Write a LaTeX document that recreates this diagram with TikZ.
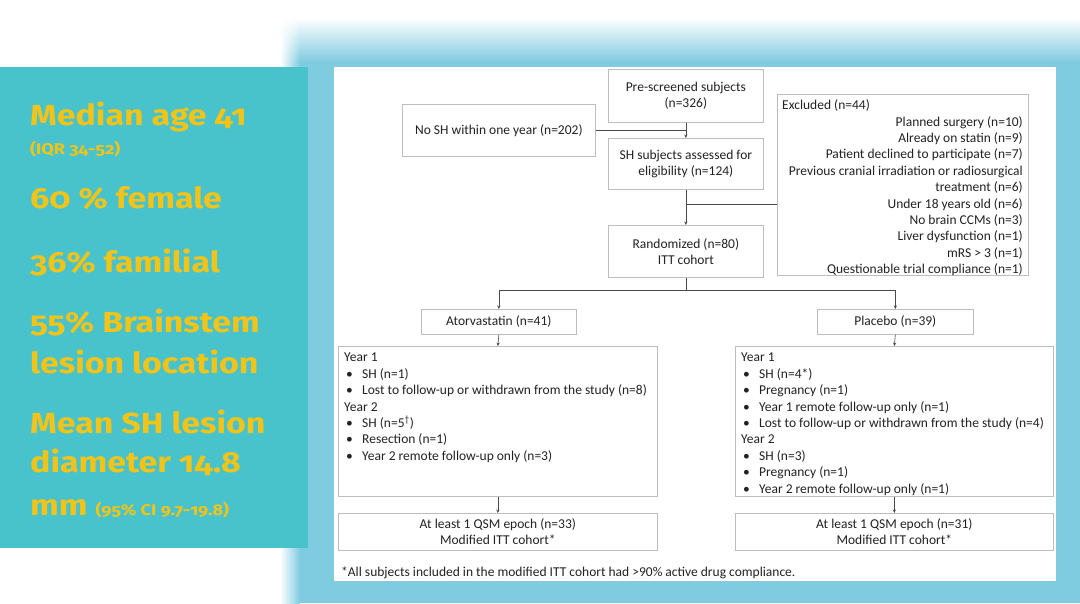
\documentclass[tikz,border=0pt]{standalone}
\usepackage{fontspec}
\setmainfont{Carlito}
\newfontfamily\leftfont[Numbers=OldStyle, FakeStretch=1.17]{Fira Sans}
\usetikzlibrary{arrows.meta,shadings}
\definecolor{panelteal}{HTML}{48C3CB}
\definecolor{glow}{HTML}{7FCBE0}
\definecolor{ylw}{HTML}{F2C419}
\definecolor{boxgray}{HTML}{BDBDBD}
\definecolor{linegray}{HTML}{4A4A4A}
\definecolor{txtc}{HTML}{222222}
\newcommand\flowfs{\fontsize{13.5}{16.4}\selectfont}
\newcommand\bigfs{\leftfont\bfseries\fontsize{29}{34}\selectfont}
\newcommand\smallfs{\leftfont\bfseries\fontsize{15.5}{18}\selectfont}
\newcommand\bul{\makebox[18pt][l]{\hspace{2pt}•}}
\begin{document}
\begin{tikzpicture}[x=1pt,y=-1pt,
  box/.style={draw=boxgray, line width=0.7pt, fill=white, inner sep=0pt, align=center, text=txtc, font=\flowfs, anchor=north west},
  txt/.style={inner sep=0pt, align=left, text=txtc, font=\flowfs},
  stat/.style={inner sep=0pt, anchor=base west, text=ylw, font=\bigfs},
  conn/.style={draw=linegray, line width=0.6pt},
  arr/.style={conn, -{Stealth[length=3.5pt,width=3.2pt]}}]
\useasboundingbox (0,0) rectangle (1080,603);
\fill[white] (0,0) rectangle (1080,603);
% glow background
\shade[top color=white, bottom color=glow] (300,18) rectangle (1080,62);
\fill[glow] (300,62) rectangle (1080,603);
\shade[left color=white, right color=glow] (280,62) rectangle (300,603);
\shade[upper left=white, upper right=white, lower left=white, lower right=glow] (280,18) rectangle (300,62);
% left teal panel
\fill[panelteal] (0,67) rectangle (308,548);
% white main panel
\fill[white] (334,67) rectangle (1056,581);

% left statistics
\node[stat] (s1) at (30,125) {Median age 41};
\node[stat, font=\smallfs] (s1b) at (30,154) {(IQR 34-52)};
\node[stat] (s2) at (30,208) {60 \% female};
\node[stat] (s3) at (30,272) {36\% familial};
\node[stat] (s4) at (30,332) {55\% Brainstem};
\node[stat] (s4b) at (30,373) {lesion location};
\node[stat] (s5) at (30,433) {Mean SH lesion};
\node[stat] (s5b) at (30,472) {diameter 14.8};
\node[stat] (s5c) at (30,515) {mm {\smallfs(95\% CI 9.7-19.8)}};

% flowchart boxes
\node[box, minimum width=155, minimum height=53] (pre) at (608,69) {Pre-screened subjects\\(n=326)};
\node[box, minimum width=193, minimum height=52] (nosh) at (402,104) {No SH within one year (n=202)};
\node[box, minimum width=155, minimum height=51] (sh) at (608,138) {SH subjects assessed for\\eligibility (n=124)};
\node[box, minimum width=251, minimum height=181] (excl) at (777,94) {};
\node[box, minimum width=155, minimum height=52] (rand) at (608,225) {Randomized (n=80)\\ITT cohort};
\node[box, minimum width=155, minimum height=25] (ator) at (421,309) {Atorvastatin (n=41)};
\node[box, minimum width=156, minimum height=25] (plac) at (817,309) {Placebo (n=39)};
\node[box, minimum width=319, minimum height=150] (y1) at (338,346) {};
\node[box, minimum width=318, minimum height=150] (y2) at (735,346) {};
\node[box, minimum width=319, minimum height=37] (f1) at (338,513) {At least 1 QSM epoch (n=33)\\Modified ITT cohort*};
\node[box, minimum width=318, minimum height=37] (f2) at (735,513) {At least 1 QSM epoch (n=31)\\Modified ITT cohort*};

% texts inside boxes
\node[txt, anchor=base west] (exh) at (782,109) {Excluded (n=44)};
\node[txt, anchor=north east, align=right] (exl) at (1023,116) {Planned surgery (n=10)\\Already on statin (n=9)\\Patient declined to participate (n=7)\\Previous cranial irradiation or radiosurgical\\treatment (n=6)\\Under 18 years old (n=6)\\No brain CCMs (n=3)\\Liver dysfunction (n=1)\\mRS > 3 (n=1)\\Questionable trial compliance (n=1)};
\node[txt, anchor=north west] (y1t) at (344,353) {Year 1\\\bul SH (n=1)\\\bul Lost to follow-up or withdrawn from the study (n=8)\\Year 2\\\bul SH (n=5\textsuperscript{†})\\\bul Resection (n=1)\\\bul Year 2 remote follow-up only (n=3)};
\node[txt, anchor=north west] (y2t) at (741,353) {Year 1\\\bul SH (n=4*)\\\bul Pregnancy (n=1)\\\bul Year 1 remote follow-up only (n=1)\\\bul Lost to follow-up or withdrawn from the study (n=4)\\Year 2\\\bul SH (n=3)\\\bul Pregnancy (n=1)\\\bul Year 2 remote follow-up only (n=1)};
\node[txt, anchor=base west] (foot) at (341,576) {*All subjects included in the modified ITT cohort had >90\% active drug compliance.};

% connectors
\draw[arr] (pre.south) -- (sh.north);
\draw[conn] (nosh.east) -- (nosh.east -| pre.south);
\draw[arr] (sh.south) -- (rand.north);
\coordinate (exj) at (sh.south |- 0,204);
\draw[conn] (exj) -- (exj -| excl.west);
\coordinate (split) at (rand.south |- 0,290);
\draw[conn] (rand.south) -- (split);
\draw[arr] (split) -| (ator.north);
\draw[arr] (split) -| (plac.north);
\draw[arr] (ator.south) -- (y1.north);
\draw[arr] (plac.south) -- (y2.north);
\draw[arr] (y1.south) -- (f1.north);
\draw[arr] (y2.south) -- (f2.north);
\end{tikzpicture}
\end{document}
